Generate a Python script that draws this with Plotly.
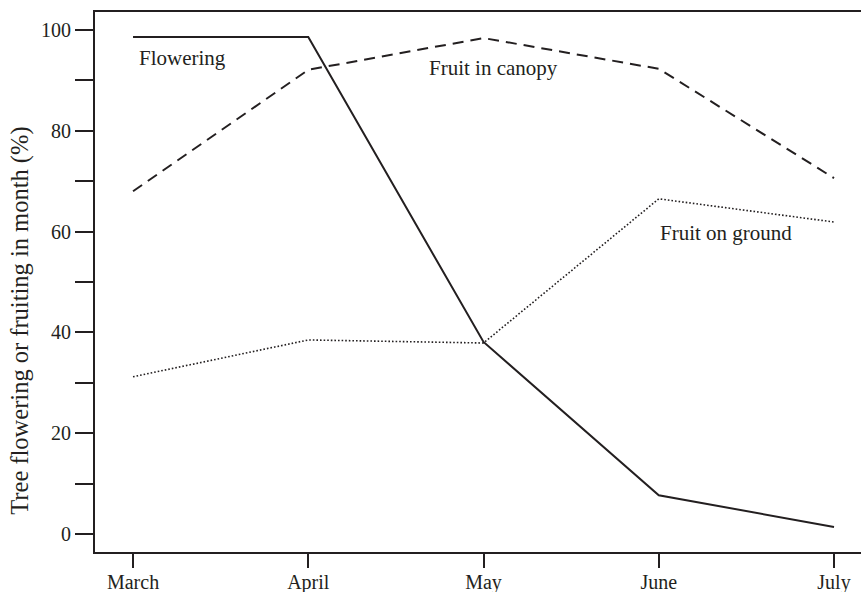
import plotly.graph_objects as go

months = ["March", "April", "May", "June", "July"]
month_idx = [0, 1, 2, 3, 4]
flowering = [98.6, 98.6, 38.1, 7.7, 1.4]
fruit_canopy = [68.0, 92.1, 98.4, 92.3, 70.6]
fruit_ground = [31.2, 38.5, 37.9, 66.5, 61.9]

y_ticks = [0, 20, 40, 60, 80, 100]
y_minor = [10, 30, 50, 70, 90]

y_title = "Tree flowering or fruiting in month (%)"

ink = "#231f20"
font_family = "Liberation Serif, Times New Roman, serif"

fig = go.Figure()
fig.add_trace(go.Scatter(x=month_idx, y=flowering, mode="lines",
                         line=dict(color=ink, width=2), name="Flowering"))
fig.add_trace(go.Scatter(x=month_idx, y=fruit_canopy, mode="lines",
                         line=dict(color=ink, width=2, dash="11px,7px"), name="Fruit in canopy"))
fig.add_trace(go.Scatter(x=month_idx, y=fruit_ground, mode="lines",
                         line=dict(color=ink, width=1.6, dash="1.6px,2px"), name="Fruit on ground"))

labels = [("Flowering", 0.02, 94.4), ("Fruit in canopy", 1.675, 92.5), ("Fruit on ground", 2.995, 59.7)]
for txt, x, y in labels:
    fig.add_annotation(x=x, y=y, text=txt, showarrow=False, xanchor="left", yanchor="middle",
                       font=dict(family=font_family, size=21, color=ink))

# y-axis title (placed as rotated annotation, centred like the reference)
fig.add_annotation(xref="paper", x=-0.098, yref="y", y=42.3, text=y_title, textangle=-90,
                   showarrow=False, xanchor="center", yanchor="middle",
                   font=dict(family=font_family, size=24.5, color=ink))

fig.update_layout(
    width=861, height=592,
    margin=dict(l=95, r=0, t=12, b=40),
    plot_bgcolor="white", paper_bgcolor="white",
    showlegend=False,
    font=dict(family=font_family, color=ink),
    xaxis=dict(range=[-0.217, 4.154], tickvals=month_idx, ticktext=months, automargin=False,
               showgrid=False, zeroline=False, showline=True, linecolor=ink, linewidth=2,
               mirror=True, ticks="outside", ticklen=14, tickwidth=2, tickcolor=ink,
               ticklabelstandoff=-3,
               tickfont=dict(family=font_family, size=20, color=ink)),
    yaxis=dict(range=[-3.57, 103.57], tickvals=y_ticks, automargin=False,
               showgrid=False, zeroline=False, showline=True, linecolor=ink, linewidth=2,
               ticks="outside", ticklen=18, tickwidth=2, tickcolor=ink,
               tickfont=dict(family=font_family, size=20, color=ink),
               minor=dict(tickvals=y_minor, ticks="outside", ticklen=18, tickwidth=2, tickcolor=ink)),
)

fig.write_html("out.html", config={"displayModeBar": False},
               post_script="document.body.style.margin='0';")
